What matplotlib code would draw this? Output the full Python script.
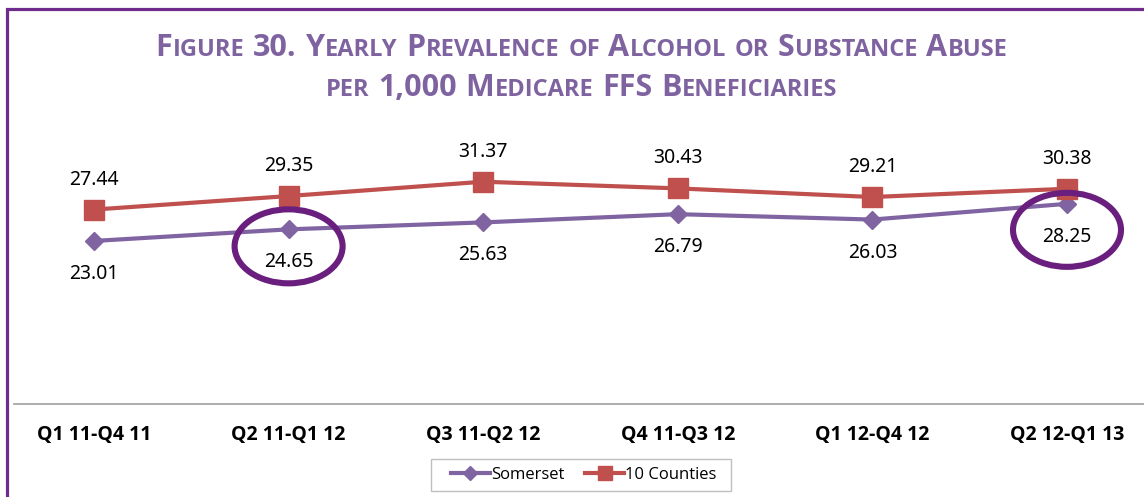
import matplotlib
matplotlib.use("Agg")
import matplotlib.pyplot as plt
from matplotlib.patches import Ellipse, Rectangle

# ── data ──────────────────────────────────────
periods   = ["Q1 11-Q4 11", "Q2 11-Q1 12", "Q3 11-Q2 12",
             "Q4 11-Q3 12", "Q1 12-Q4 12", "Q2 12-Q1 13"]
somerset  = [23.01, 24.65, 25.63, 26.79, 26.03, 28.25]
counties  = [27.44, 29.35, 31.37, 30.43, 29.21, 30.38]
circled   = [1, 5]          # Somerset points ringed in the original

C_SOM    = "#8064A2"
C_CTY    = "#C0504D"
C_RING   = "#6A1E7E"
C_BORDER = "#702C8C"
C_TITLE  = "#7F63A1"

W, H = 1144, 497
fig = plt.figure(figsize=(W / 100, H / 100), dpi=100, facecolor="white")

# purple frame (top + left edges visible)
fig.patches.append(Rectangle((7 / W, -0.2), 1.5, 1.2 - 9 / H,
                             transform=fig.transFigure, fill=False,
                             edgecolor=C_BORDER, linewidth=2.3, clip_on=False))

ax = fig.add_axes([14 / W, 1 - 404 / H, 1 - 14 / W, 248 / H])
x = list(range(len(periods)))

ax.plot(x, somerset, color=C_SOM, lw=3, marker="D", ms=9.5, label="Somerset", zorder=3)
ax.plot(x, counties, color=C_CTY, lw=3, marker="s", ms=14, label="10 Counties", zorder=3)

for i, v in enumerate(counties):
    ax.annotate(f"{v:.2f}", (i, v), xytext=(0, 30), textcoords="offset pixels",
                ha="center", va="center", fontsize=14, family="Noto Sans", color="black")
for i, v in enumerate(somerset):
    ax.annotate(f"{v:.2f}", (i, v), xytext=(0, -33), textcoords="offset pixels",
                ha="center", va="center", fontsize=14, family="Noto Sans", color="black")

ax.set_xlim((14 - 94) / 194.6, (W - 94) / 194.6)
ax.set_ylim(0, 35)

# rings around highlighted values (sized in pixels -> data units)
px_x = 194.6
px_y = 248 / 35
for i, dy in zip(circled, [17, 26]):
    ax.add_patch(Ellipse((i, somerset[i] - dy / px_y), 108 / px_x, 74 / px_y,
                         fill=False, edgecolor=C_RING, lw=4.4, clip_on=False, zorder=4))

ax.set_xticks(x)
ax.set_xticklabels(periods, fontsize=14, fontweight="bold", family="Open Sans")
ax.tick_params(axis="x", length=0, pad=15)
ax.set_yticks([])
for s in ["top", "right", "left"]:
    ax.spines[s].set_visible(False)
ax.spines["bottom"].set_color("#A6A6A6")
ax.spines["bottom"].set_linewidth(1.3)
ax.patch.set_alpha(0)

# legend, with its box drawn separately for Excel-style padding
leg = fig.legend(loc="center", bbox_to_anchor=(584 / W, 1 - 475 / H), ncol=2,
                 frameon=False, prop={"family": "Open Sans", "size": 12},
                 handlelength=2.3, handletextpad=0.1, columnspacing=1.25,
                 markerscale=0.7)
fig.patches.append(Rectangle((431 / W, 1 - 491 / H), 300 / W, 32 / H,
                             transform=fig.transFigure, fill=False,
                             edgecolor="#BFBFBF", linewidth=1.0))


# ── small-caps title, built piece by piece ─────
def small_caps_line(text, cx, base, big, small):
    r = fig.canvas.get_renderer()
    space = big * 0.26 * 100 / 72
    pieces = []
    for w in text.split(" "):
        runs = []
        for ch in w:
            size = small if ch.islower() else big
            if runs and runs[-1][1] == size:
                runs[-1][0] += ch.upper()
            else:
                runs.append([ch.upper(), size])
        pieces.append(runs)
    arts = []
    xpos = 0
    for k, runs in enumerate(pieces):
        for s, size in runs:
            t = fig.text(0, 0, s, fontsize=size, fontweight="bold", family="Open Sans",
                         color=C_TITLE, ha="left", va="baseline")
            arts.append((t, xpos))
            xpos += t.get_window_extent(r).width + 0.6
        if k < len(pieces) - 1:
            xpos += space
    x0 = cx - xpos / 2
    for t, off in arts:
        t.set_position(((x0 + off) / W, 1 - base / H))


small_caps_line("Figure 30. Yearly Prevalence of Alcohol or Substance Abuse", 582, 56, 22, 17)
small_caps_line("per 1,000 Medicare FFS Beneficiaries", 582, 96, 22, 17)

fig.savefig("out.png", dpi=100, facecolor="white")
